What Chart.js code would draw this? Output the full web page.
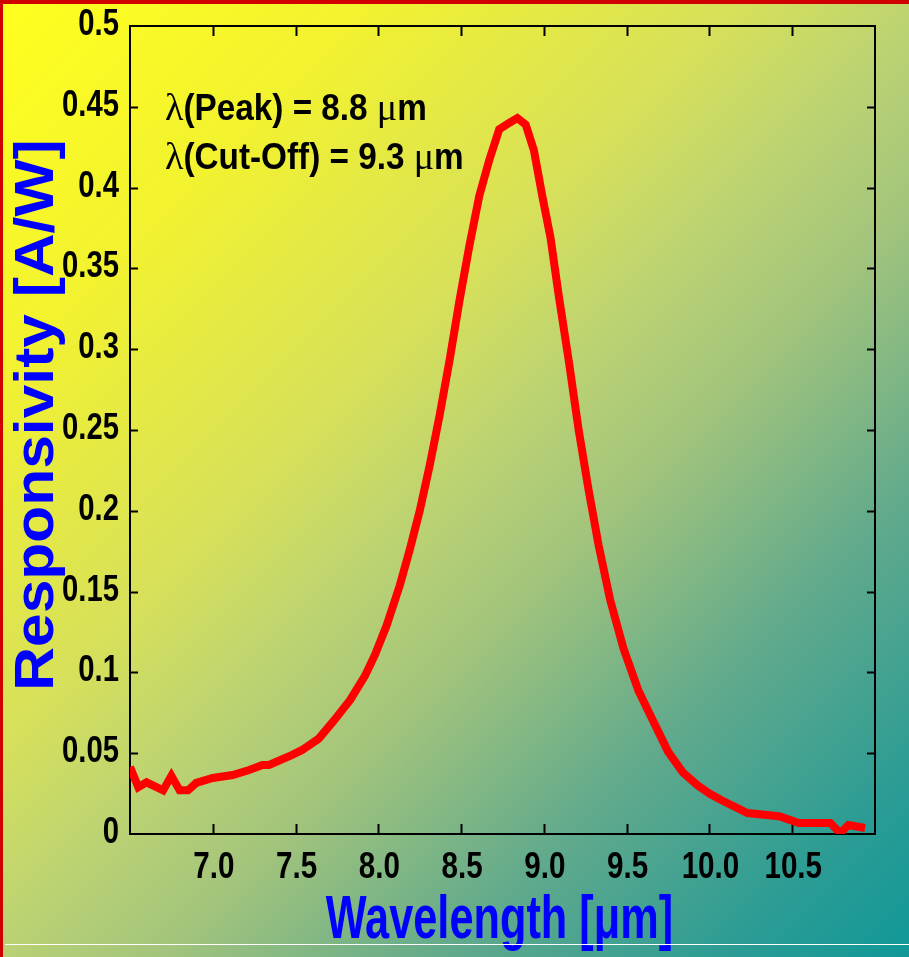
<!DOCTYPE html>
<html>
<head>
<meta charset="utf-8">
<script src="https://cdn.jsdelivr.net/npm/chart.js@4.4.1/dist/chart.umd.min.js"></script>
<style>
  html, body { margin: 0; padding: 0; }
  body {
    width: 909px; height: 957px; overflow: hidden; position: relative;
    background: linear-gradient(135deg, #ffff1e 0%, #f2f230 20%, #d6e05a 40%, #bcd372 50%, #a2c47c 60%, #62aa8c 75%, #2c9c94 90%, #109898 100%);
  }
  #wrap { position: absolute; left: 0; top: 0; width: 909px; height: 957px; }
  .bar-top { position: absolute; left: 0; top: 0; width: 909px; height: 4px; background: #d00000; }
  .bar-left { position: absolute; left: 0; top: 0; width: 3px; height: 957px; background: #d00000; }
  .line-bottom { position: absolute; left: 5px; top: 944px; width: 904px; height: 1px; background: #ffffff; }
</style>
</head>
<body>
<div id="wrap"><canvas id="chart" width="909" height="957"></canvas></div>
<div class="bar-top"></div>
<div class="bar-left"></div>
<div class="line-bottom"></div>
<script>
// spectral responsivity
const wavelength = [6.50, 6.55, 6.60, 6.70, 6.75, 6.80, 6.85, 6.90, 7.00, 7.12, 7.22, 7.30, 7.34, 7.48, 7.54, 7.64, 7.73, 7.83, 7.92, 7.98,
                    8.05, 8.13, 8.19, 8.25, 8.31, 8.37, 8.43, 8.49, 8.55, 8.61, 8.67, 8.73, 8.79, 8.84, 8.89, 8.94, 8.99, 9.04, 9.09, 9.15,
                    9.21, 9.27, 9.33, 9.40, 9.48, 9.57, 9.66, 9.75, 9.84, 9.93, 10.00, 10.07, 10.23, 10.42, 10.54, 10.73, 10.79, 10.84, 10.94];
const responsivity = [0.0415, 0.029, 0.032, 0.027, 0.036, 0.027, 0.027, 0.0316, 0.0347, 0.0365, 0.0396, 0.0427, 0.0427, 0.049, 0.052, 0.059, 0.070, 0.083, 0.098, 0.111,
                      0.129, 0.154, 0.176, 0.200, 0.228, 0.259, 0.293, 0.330, 0.364, 0.395, 0.417, 0.436, 0.440, 0.443, 0.439, 0.423, 0.395, 0.369, 0.333, 0.293,
                      0.250, 0.213, 0.179, 0.145, 0.115, 0.089, 0.070, 0.051, 0.038, 0.030, 0.025, 0.021, 0.013, 0.011, 0.0068, 0.0068, 0.0006, 0.0056, 0.0037];

const yTickLabels = ['0', '0.05', '0.1', '0.15', '0.2', '0.25', '0.3', '0.35', '0.4', '0.45', '0.5'];
const xTickLabels = ['', '7.0', '7.5', '8.0', '8.5', '9.0', '9.5', '10.0', '10.5', ''];
const noteLines = [['(Peak) = 8.8 ', 'm'], ['(Cut-Off) = 9.3 ', 'm']];
const xTitle = 'Wavelength [\u03bcm]';
const yTitle = 'Responsivity [A/W]';

const sans = '"Liberation Sans", Arial, sans-serif';
const serif = '"Liberation Serif", "Times New Roman", serif';

// the original uses a condensed bold face; squeeze Liberation Sans horizontally
function squeezed(ctx, text, x, y, sx, align) {
  const w = ctx.measureText(text).width * sx;
  let left = x;
  if (align === 'right') left = x - w;
  if (align === 'center') left = x - w / 2;
  ctx.save();
  ctx.translate(left, y);
  ctx.scale(sx, 1);
  ctx.textAlign = 'left';
  ctx.fillText(text, 0, 0);
  ctx.restore();
  return w;
}

const frame = {
  id: 'frame',
  beforeDatasetsDraw(chart) {
    const { ctx, chartArea: a, scales } = chart;
    ctx.save();
    ctx.strokeStyle = '#000';
    ctx.lineWidth = 2;
    ctx.strokeRect(a.left, a.top, a.right - a.left, a.bottom - a.top);
    ctx.beginPath();
    scales.x.ticks.forEach(t => {
      const px = Math.round(scales.x.getPixelForValue(t.value)) + 0.5;
      if (px <= a.left + 2 || px >= a.right - 2) return;
      ctx.moveTo(px, a.bottom); ctx.lineTo(px, a.bottom - 10);
      ctx.moveTo(px, a.top); ctx.lineTo(px, a.top + 10);
    });
    scales.y.ticks.forEach(t => {
      const py = Math.round(scales.y.getPixelForValue(t.value)) + 0.5;
      if (py <= a.top + 2 || py >= a.bottom - 2) return;
      ctx.moveTo(a.left, py); ctx.lineTo(a.left + 8, py);
      ctx.moveTo(a.right, py); ctx.lineTo(a.right - 8, py);
    });
    ctx.stroke();

    // tick labels
    ctx.fillStyle = '#000';
    ctx.textBaseline = 'alphabetic';
    ctx.font = 'bold 37px ' + sans;
    scales.y.ticks.forEach((t, i) => {
      const py = scales.y.getPixelForValue(t.value);
      squeezed(ctx, yTickLabels[i] || '', a.left - 11, py + 9, 0.79, 'right');
    });
    scales.x.ticks.forEach((t, i) => {
      const px = scales.x.getPixelForValue(t.value);
      squeezed(ctx, xTickLabels[i] || '', px + 1, a.bottom + 44, 0.8, 'center');
    });

    // axis titles
    ctx.fillStyle = '#0000ff';
    ctx.font = 'bold 61px ' + sans;
    squeezed(ctx, xTitle, (a.left + a.right) / 2 - 3, 938, 0.71, 'center');
    ctx.save();
    ctx.translate(53, 415);
    ctx.rotate(-Math.PI / 2);
    ctx.font = 'bold 55px ' + sans;
    squeezed(ctx, yTitle, 0, 0, 1.1, 'center');
    ctx.restore();
    ctx.restore();
  },
  afterDatasetsDraw(chart) {
    const { ctx, chartArea: a } = chart;
    ctx.save();
    ctx.fillStyle = '#000';
    ctx.textBaseline = 'alphabetic';
    noteLines.forEach((parts, i) => {
      let x = a.left + 35;
      const y = a.top + 94 + i * 49;
      ctx.font = '38px ' + serif;
      ctx.fillText('\u03bb', x, y);
      x += ctx.measureText('\u03bb').width;
      ctx.font = 'bold 37px ' + sans;
      x += squeezed(ctx, parts[0], x, y, 0.9, 'left');
      ctx.font = '38px ' + serif;
      ctx.fillText('\u03bc', x, y);
      x += ctx.measureText('\u03bc').width;
      ctx.font = 'bold 37px ' + sans;
      squeezed(ctx, parts[1], x, y, 0.9, 'left');
    });
    ctx.restore();
  }
};

new Chart(document.getElementById('chart'), {
  type: 'line',
  data: {
    datasets: [{
      data: wavelength.map((w, i) => ({ x: w, y: responsivity[i] })),
      borderColor: '#ff0000',
      borderWidth: 8,
      pointRadius: 0,
      tension: 0,
      fill: false
    }]
  },
  options: {
    responsive: false,
    animation: false,
    events: [],
    layout: { padding: { top: 26, right: 34, left: 0, bottom: 0 } },
    plugins: { legend: { display: false }, tooltip: { enabled: false } },
    scales: {
      x: {
        type: 'linear',
        min: 6.5, max: 11.0,
        grid: { display: false, drawTicks: false },
        border: { display: false },
        afterFit(scale) { scale.height = 123; },
        ticks: { stepSize: 0.5, display: false },
        title: { display: false }
      },
      y: {
        min: 0, max: 0.5,
        grid: { display: false, drawTicks: false },
        border: { display: false },
        afterFit(scale) { scale.width = 130; },
        ticks: { stepSize: 0.05, display: false },
        title: { display: false }
      }
    }
  },
  plugins: [frame]
});
</script>
</body>
</html>
